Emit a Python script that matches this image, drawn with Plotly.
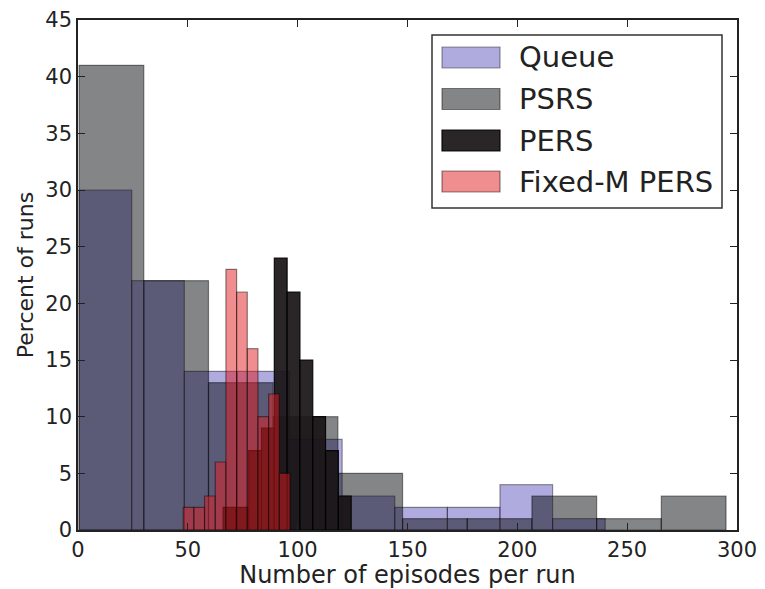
import numpy as np
import plotly.graph_objects as go

# ---- data (percent of runs per bin) ----
queue_edges = [0.5, 24.45, 48.4, 72.35, 96.3, 120.25, 144.2, 168.15, 192.1, 216.05, 240.0]
queue_pct = [30, 22, 14, 14, 8, 3, 2, 2, 4, 1]

psrs_edges = [0.5, 29.95, 59.4, 88.85, 118.3, 147.75, 177.2, 206.65, 236.1, 265.55, 295.0]
psrs_pct = [41, 22, 13, 10, 5, 1, 1, 3, 1, 3]

pers_edges = [66.05, 71.88, 77.71, 83.54, 89.37, 95.2, 101.03, 106.86, 112.69, 118.52, 124.35]
pers_pct = [2, 2, 7, 9, 24, 21, 15, 10, 7, 3]

fixed_edges = [47.9, 52.76, 57.62, 62.48, 67.34, 72.2, 77.06, 81.92, 86.78, 91.64, 96.5]
fixed_pct = [2, 2, 3, 6, 23, 21, 16, 10, 12, 5]

series_names = ["Queue", "PSRS", "PERS", "Fixed-M PERS"]
x_ticks = [0, 50, 100, 150, 200, 250, 300]
y_ticks = [0, 5, 10, 15, 20, 25, 30, 35, 40, 45]

# ---- styles ----
fills = ["rgba(96,88,192,0.5)", "rgba(10,12,16,0.5)", "rgba(26,20,22,0.93)", "rgba(225,28,32,0.5)"]
edges = ["rgba(0,0,0,0.4)", "rgba(0,0,0,0.45)", "rgba(0,0,0,0.9)", "rgba(0,0,0,0.45)"]
FONT = "DejaVu Sans"

fig = go.Figure()
for name, e, p, fc, lc in zip(series_names,
                              [queue_edges, psrs_edges, pers_edges, fixed_edges],
                              [queue_pct, psrs_pct, pers_pct, fixed_pct],
                              fills, edges):
    e = np.asarray(e, dtype=float)
    centers = (e[:-1] + e[1:]) / 2
    widths = np.diff(e)
    fig.add_trace(go.Bar(
        x=centers, y=p, width=widths, name=name,
        marker=dict(color=fc, line=dict(color=lc, width=1.2)),
        showlegend=False, hoverinfo="x+y+name",
    ))

# page has an 8px body margin: figure occupies page x 8..765, y 8..589
OFF = 8
W, H = 765 - OFF, 589 - OFF
# plot area in page pixels
L, R, T, B = 78, 737, 20, 530
pw, ph = R - L, B - T
def px(xp):
    return (xp - L) / pw
def py(yp):
    return (B - yp) / ph

# ---- custom legend (matplotlib-like wide swatches) ----
shapes = [dict(type="rect", xref="paper", yref="paper",
               x0=px(432), x1=px(722), y0=py(208), y1=py(35),
               line=dict(color="#333333", width=1.5), fillcolor="white", layer="above")]
annotations = []
rows = [57.5, 99, 140.5, 181.5]
for name, fc, lc, yc in zip(series_names, fills, edges, rows):
    shapes.append(dict(type="rect", xref="paper", yref="paper",
                       x0=px(442), x1=px(500), y0=py(yc + 10.5), y1=py(yc - 10.5),
                       line=dict(color=lc, width=1.2), fillcolor=fc, layer="above"))
    annotations.append(dict(xref="paper", yref="paper", x=px(517), y=py(yc),
                            text=name, showarrow=False, xanchor="left", yanchor="middle",
                            font=dict(family=FONT, size=29, color="#222222")))

axis_common = dict(showline=True, linecolor="#222222", linewidth=1.5, mirror="allticks",
                   ticks="inside", ticklen=7, tickwidth=1, tickcolor="#222222",
                   showgrid=False, zeroline=False, automargin=False,
                   tickfont=dict(family=FONT, size=21, color="#222222"))

fig.update_layout(
    width=W, height=H,
    margin=dict(l=L - OFF, r=765 - R, t=T - OFF, b=589 - B),
    paper_bgcolor="white", plot_bgcolor="white",
    barmode="overlay",
    shapes=shapes, annotations=annotations,
    xaxis=dict(range=[0, 300], tickvals=x_ticks,
               title=dict(text="Number of episodes per run", standoff=7,
                          font=dict(family=FONT, size=24, color="#222222")),
               **axis_common),
    yaxis=dict(range=[0, 45], tickvals=y_ticks,
               title=dict(text="Percent of runs", standoff=6,
                          font=dict(family=FONT, size=22, color="#222222")),
               **axis_common),
)

fig.write_html("out.html")
